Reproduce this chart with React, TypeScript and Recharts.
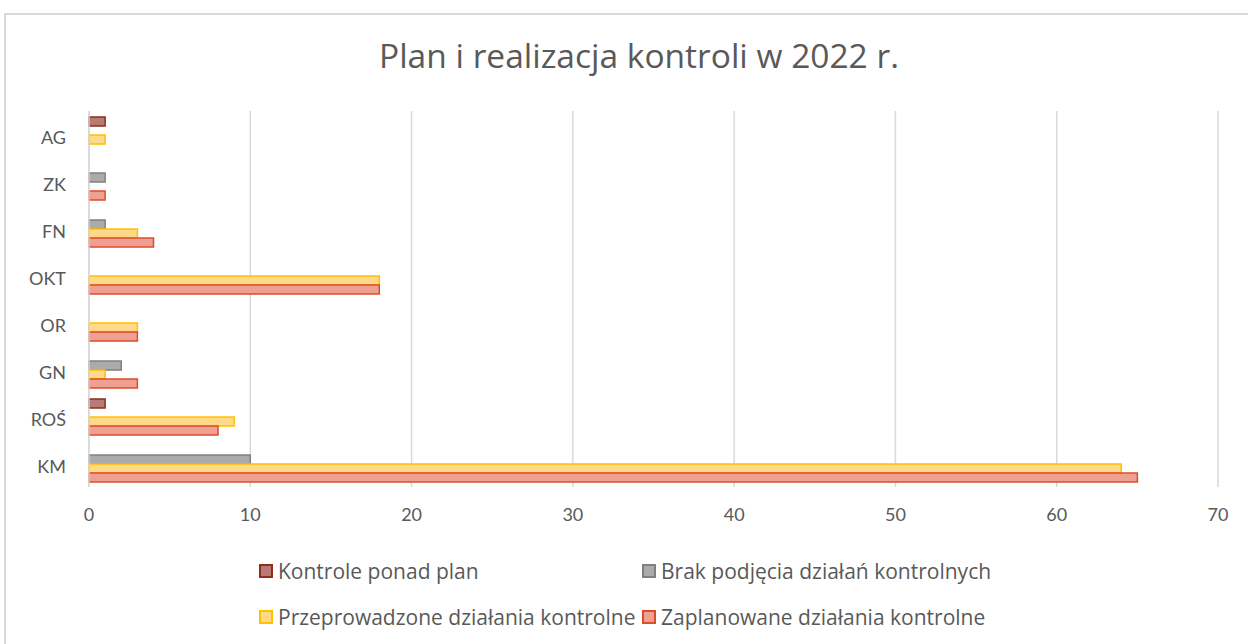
import React from 'react';
import { BarChart, Bar, XAxis, YAxis, CartesianGrid } from 'recharts';

const categories = ['AG', 'ZK', 'FN', 'OKT', 'OR', 'GN', 'ROŚ', 'KM'];
const kontrolePonadPlan = [1, 0, 0, 0, 0, 0, 1, 0];
const brakPodjecia = [0, 1, 1, 0, 0, 2, 0, 10];
const przeprowadzone = [1, 0, 3, 18, 3, 1, 9, 64];
const zaplanowane = [0, 1, 4, 18, 3, 3, 8, 65];
const xTicks = [0, 10, 20, 30, 40, 50, 60, 70];

const data = categories.map((c, i) => ({
  name: c,
  kontrole: kontrolePonadPlan[i],
  brak: brakPodjecia[i],
  przep: przeprowadzone[i],
  zapl: zaplanowane[i],
}));

const FONT = 'Lato, "Open Sans", sans-serif';
const FONT2 = '"Open Sans", Lato, sans-serif';
const TXT = '#595959';

const series = [
  { key: 'kontrole', name: 'Kontrole ponad plan', fill: '#B87A72', stroke: '#8E2E1C' },
  { key: 'brak', name: 'Brak podjęcia działań kontrolnych', fill: '#ABABAB', stroke: '#808080' },
  { key: 'przep', name: 'Przeprowadzone działania kontrolne', fill: '#FFD98A', stroke: '#FFC000' },
  { key: 'zapl', name: 'Zaplanowane działania kontrolne', fill: '#EFA093', stroke: '#DC4E2A' },
];

const legendPos = [
  { left: 259, top: 557 },
  { left: 642, top: 557 },
  { left: 259, top: 603 },
  { left: 642, top: 603 },
];

export default function App() {
  return (
    <div style={{ position: 'absolute', left: 0, top: 0, width: 1248, height: 644, background: '#fff', overflow: 'hidden', fontFamily: FONT }}>
      <div style={{ position: 'absolute', left: 4, top: 13, width: 1300, height: 700, border: '2px solid #D9D9D9', boxSizing: 'border-box' }} />
      <div style={{ position: 'absolute', left: 0, top: 32, width: 1278, textAlign: 'center', fontSize: 33.5, lineHeight: 'normal', color: TXT, fontFamily: FONT2 }}>
        Plan i realizacja kontroli w 2022 r.
      </div>
      <div style={{ position: 'absolute', left: 0, top: 0 }}>
        <BarChart
          width={1248}
          height={540}
          data={data}
          layout="vertical"
          margin={{ top: 111, right: 30, bottom: 0, left: 0 }}
          barGap={0}
          barSize={9}
        >
          <CartesianGrid horizontal={false} stroke="#D9D9D9" strokeWidth={1.5} />
          <XAxis
            type="number"
            domain={[0, 70]}
            ticks={xTicks}
            height={53}
            axisLine={false}
            tickLine={false}
            tickSize={0}
            tickMargin={21}
            tick={{ fill: TXT, fontSize: 18, fontFamily: FONT }}
            interval={0}
          />
          <YAxis
            type="category"
            dataKey="name"
            width={89}
            axisLine={{ stroke: '#D9D9D9', strokeWidth: 1.5 }}
            tickLine={false}
            tickSize={0}
            tickMargin={23}
            tick={{ fill: TXT, fontSize: 18, fontFamily: FONT, dy: 3 }}
            interval={0}
          />
          {series.map((s) => (
            <Bar key={s.key} dataKey={s.key} name={s.name} fill={s.fill} stroke={s.stroke} strokeWidth={1.5} isAnimationActive={false} />
          ))}
        </BarChart>
      </div>
      {series.map((s, i) => (
        <div key={s.key} style={{ position: 'absolute', left: legendPos[i].left, top: legendPos[i].top, display: 'flex', alignItems: 'center', fontSize: 21, lineHeight: '28px', color: TXT, whiteSpace: 'nowrap', fontFamily: FONT2 }}>
          <span style={{ display: 'inline-block', width: 10, height: 10, background: s.fill, border: `2px solid ${s.stroke}`, marginRight: 5 }} />
          {s.name}
        </div>
      ))}
    </div>
  );
}
